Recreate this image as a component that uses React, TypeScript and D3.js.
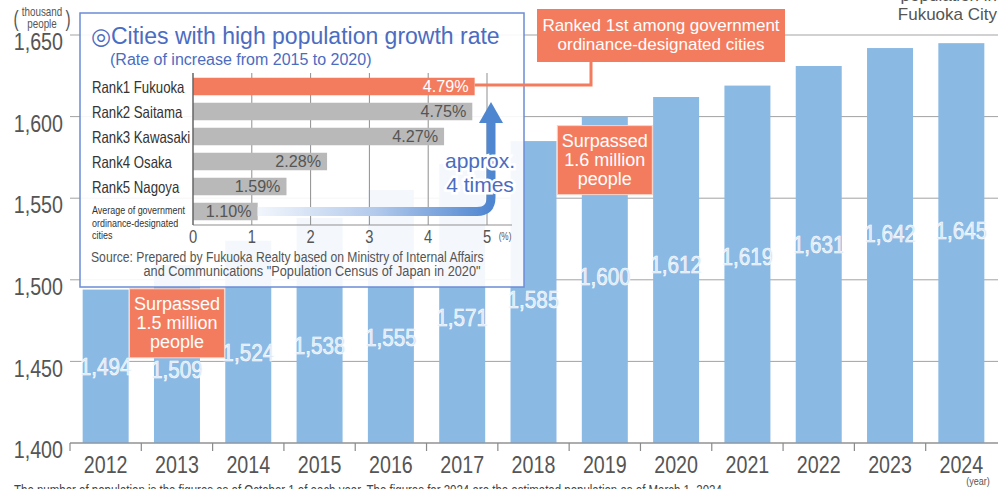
import React from 'react';
import * as d3 from 'd3';

const years = ['2012', '2013', '2014', '2015', '2016', '2017', '2018', '2019', '2020', '2021', '2022', '2023', '2024'];
const population = [1494, 1509, 1524, 1538, 1555, 1571, 1585, 1600, 1612, 1619, 1631, 1642, 1645];
const yTicks = [1400, 1450, 1500, 1550, 1600, 1650];

const rankCities = ['Rank1 Fukuoka', 'Rank2 Saitama', 'Rank3 Kawasaki', 'Rank4 Osaka', 'Rank5 Nagoya', 'Average'];
const rankLabelLines = [['Rank1 Fukuoka'], ['Rank2 Saitama'], ['Rank3 Kawasaki'], ['Rank4 Osaka'], ['Rank5 Nagoya'], ['Average of government', 'ordinance-designated', 'cities']];
const growthRates = [4.79, 4.75, 4.27, 2.28, 1.59, 1.10];
const rateTicks = [0, 1, 2, 3, 4, 5];

const SANS = "'Liberation Sans', Arial, sans-serif";
const ORANGE = '#f47c5e';
const BAR = '#8ab9e4';
const BLUE_TXT = '#4b6cc1';
const GRAY_TXT = '#555';

type NTProps = {
  x: number; y: number; size: number; fill?: string; anchor?: 'start' | 'middle' | 'end';
  sx?: number; children: React.ReactNode; stroke?: string; strokeWidth?: number; paintOrder?: string;
};
// condensed text (horizontal squeeze around its anchor)
const NT = ({ x, y, size, fill = GRAY_TXT, anchor = 'start', sx = 0.82, children, ...rest }: NTProps) => (
  <text transform={`translate(${x},${y}) scale(${sx},1)`} textAnchor={anchor} dominantBaseline="central"
    fontFamily={SANS} fontSize={size} fill={fill} {...rest}>{children}</text>
);

export default function App() {
  const x = d3.scaleBand<string>().domain(years).range([70, 997]).paddingInner(0.355).paddingOuter(0.1775);
  const y = d3.scaleLinear().domain([1400, 1650]).range([443, 35]);
  // label placement scale (value -> label centre), following the reference's staggered labels
  const labelY = d3.scaleLinear().domain([1494, 1555, 1585, 1600, 1645]).range([367, 338, 300, 277, 231]);

  const ix = d3.scaleLinear().domain([0, 5]).range([193, 487]);
  const iy = d3.scaleBand<string>().domain(rankCities).range([74, 224]).paddingInner(0.3).paddingOuter(0.15);

  const cx = (yr: string) => (x(yr) as number) + x.bandwidth() / 2;

  const callouts = [
    { year: '2013', threshold: 1500, lines: ['Surpassed', '1.5 million', 'people'] },
    { year: '2019', threshold: 1600, lines: ['Surpassed', '1.6 million', 'people'] },
  ];
  const calloutBottom = (c: typeof callouts[0]) => y(c.threshold) + 9 + 69;

  const avgY = (iy('Average') as number) + iy.bandwidth() / 2;
  const fukY = (iy('Rank1 Fukuoka') as number) + iy.bandwidth() / 2;
  const arrowX = 491;
  const r = 14;
  const arrowPath = `M${ix(1.1)},${avgY} L${arrowX - r},${avgY} Q${arrowX},${avgY} ${arrowX},${avgY - r} L${arrowX},${123}`;

  return (
    <svg width={998} height={489} style={{ position: 'absolute', left: 0, top: 0, background: '#fff' }}>
      <defs>
        <linearGradient id="arrowGrad" gradientUnits="userSpaceOnUse" x1={ix(1.1)} x2={arrowX} y1={0} y2={0}>
          <stop offset="0" stopColor="#f2f6fc" />
          <stop offset="0.5" stopColor="#b3caec" />
          <stop offset="1" stopColor="#4f86d0" />
        </linearGradient>
      </defs>

      {/* gridlines */}
      {yTicks.map((t) => (
        <line key={t} x1={70} x2={998} y1={y(t)} y2={y(t)} stroke="#a3a3a3" strokeWidth={1} />
      ))}

      {/* bars */}
      {population.map((v, i) => (
        <rect key={years[i]} x={x(years[i])} y={y(v)} width={x.bandwidth()} height={y(1400) - y(v)} fill={BAR} />
      ))}

      {/* value labels */}
      {population.map((v, i) => {
        const co = callouts.find((c) => c.year === years[i]);
        let ly = labelY(v);
        if (co) ly = Math.max(ly, calloutBottom(co) + 12);
        return (
          <NT key={'v' + i} x={cx(years[i])} y={ly} anchor="middle" size={23} sx={0.9}
            fill="#d6e6f6" stroke="#ffffff" strokeWidth={0.6}>
            {d3.format(',')(v)}
          </NT>
        );
      })}

      {/* x axis */}
      <line x1={70} x2={998} y1={y(1400)} y2={y(1400)} stroke="#8a8a8a" strokeWidth={1.2} />
      {years.map((yr) => (
        <line key={'t' + yr} x1={x(yr)! - (x.step() - x.bandwidth()) / 2} x2={x(yr)! - (x.step() - x.bandwidth()) / 2}
          y1={y(1400)} y2={y(1400) + 8} stroke="#8a8a8a" strokeWidth={1.2} />
      ))}
      {years.map((yr) => (
        <NT key={'yl' + yr} x={cx(yr)} y={465} anchor="middle" size={24}>{yr}</NT>
      ))}
      <NT x={978} y={481} anchor="middle" size={11}>(year)</NT>

      {/* y axis labels */}
      {yTicks.map((t) => (
        <NT key={'yt' + t} x={63} y={y(t) + 7} anchor="end" size={24}>{d3.format(',')(t)}</NT>
      ))}
      <NT x={16} y={18} anchor="middle" size={22} sx={0.7}>(</NT>
      <NT x={68} y={18} anchor="middle" size={22} sx={0.7}>)</NT>
      <NT x={42} y={12} anchor="middle" size={12}>thousand</NT>
      <NT x={42} y={24} anchor="middle" size={12}>people</NT>

      {/* callouts on bars */}
      {callouts.map((c) => {
        const top = y(c.threshold) + 9;
        const mid = top + 69 / 2;
        return (
          <g key={c.year}>
            <rect x={cx(c.year) - 47.5} y={top} width={95} height={69} fill={ORANGE} stroke="#fbd3c6" strokeWidth={1} />
            {c.lines.map((l, k) => (
              <text key={k} x={cx(c.year)} y={mid + (k - 1) * 19} textAnchor="middle" dominantBaseline="central"
                fontFamily={SANS} fontSize={18} fill="#fff">{l}</text>
            ))}
          </g>
        );
      })}

      {/* inset box */}
      <rect x={80} y={13} width={444} height={274} fill="#fff" fillOpacity={0.9} stroke="#6b8dd6" strokeWidth={1.5} />
      <text x={91} y={36} dominantBaseline="central" fontFamily={SANS} fontSize={23} fill={BLUE_TXT}>◎Cities with high population growth rate</text>
      <text x={110} y={59} dominantBaseline="central" fontFamily={SANS} fontSize={16} fill={BLUE_TXT}>(Rate of increase from 2015 to 2020)</text>

      {/* inset grid */}
      {rateTicks.slice(1).map((t) => (
        <line key={'ig' + t} x1={ix(t)} x2={ix(t)} y1={73} y2={225} stroke="#8f8f8f" strokeWidth={1} />
      ))}
      <line x1={ix(0)} x2={512} y1={225} y2={225} stroke="#8f8f8f" strokeWidth={1} />
      {growthRates.map((v, i) => (
        <rect key={'ib' + i} x={ix(0)} y={iy(rankCities[i])} width={ix(v) - ix(0)} height={iy.bandwidth()}
          fill={i === 0 ? ORANGE : '#b9b9b9'} />
      ))}
      <line x1={ix(0)} x2={ix(0)} y1={73} y2={225} stroke="#666" strokeWidth={1.5} />
      {growthRates.map((v, i) => (
        <NT key={'il' + i} x={ix(v) - 6} y={(iy(rankCities[i]) as number) + iy.bandwidth() / 2} anchor="end"
          size={17} sx={0.95} fill={i === 0 ? '#fff' : '#555'}>
          {v.toFixed(2)}%
        </NT>
      ))}
      {rankLabelLines.map((lines, i) => {
        const c = (iy(rankCities[i]) as number) + iy.bandwidth() / 2;
        if (lines.length === 1) {
          return <NT key={'rl' + i} x={92} y={c} size={16.5} sx={0.8} fill="#333">{lines[0]}</NT>;
        }
        return lines.map((l, k) => (
          <NT key={'rl' + i + k} x={92} y={c + (k - 0.1) * 12.5} size={11.5} sx={0.78} fill="#333">{l}</NT>
        ));
      })}
      {rateTicks.map((t) => (
        <NT key={'it' + t} x={ix(t)} y={236} anchor="middle" size={18}>{t}</NT>
      ))}
      <NT x={505} y={237} anchor="middle" size={10}>(%)</NT>
      <NT x={91} y={257} size={14.5} sx={0.84}>Source: Prepared by Fukuoka Realty based on Ministry of Internal Affairs</NT>
      <NT x={312} y={271} anchor="middle" size={14.5} sx={0.88}>and Communications "Population Census of Japan in 2020"</NT>

      {/* approx 4 times arrow */}
      <path d={arrowPath} fill="none" stroke="url(#arrowGrad)" strokeWidth={9} />
      <path d={`M${arrowX - 12},123 L${arrowX + 12},123 L${arrowX},102 Z`} fill="#4f86d0" />
      <text x={480} y={160} textAnchor="middle" dominantBaseline="central" fontFamily={SANS} fontSize={21}
        fill={BLUE_TXT} stroke="#fff" strokeWidth={5} paintOrder="stroke">approx.</text>
      <text x={480} y={184} textAnchor="middle" dominantBaseline="central" fontFamily={SANS} fontSize={21}
        fill={BLUE_TXT} stroke="#fff" strokeWidth={5} paintOrder="stroke">4 times</text>

      {/* ranked 1st callout */}
      <path d={`M${ix(4.79)},${fukY - 1.5} L${591},${fukY - 1.5} L${591},${62}`} fill="none" stroke={ORANGE} strokeWidth={3} />
      <rect x={537} y={9} width={248} height={53} fill={ORANGE} />
      <text x={661} y={25} textAnchor="middle" dominantBaseline="central" fontFamily={SANS} fontSize={17} fill="#fff">Ranked 1st among government</text>
      <text x={661} y={44} textAnchor="middle" dominantBaseline="central" fontFamily={SANS} fontSize={17} fill="#fff">ordinance-designated cities</text>

      {/* top-right title fragment */}
      <text x={997} y={1} textAnchor="end" fontFamily={SANS} fontSize={17} fill={GRAY_TXT}>population in</text>
      <text x={997} y={20} textAnchor="end" fontFamily={SANS} fontSize={17} fill={GRAY_TXT}>Fukuoka City</text>

      {/* footnote (cut off at page bottom) */}
      <NT x={14} y={490} size={14} fill="#444">The number of population is the figures as of October 1 of each year. The figures for 2024 are the estimated population as of March 1, 2024.</NT>
    </svg>
  );
}
